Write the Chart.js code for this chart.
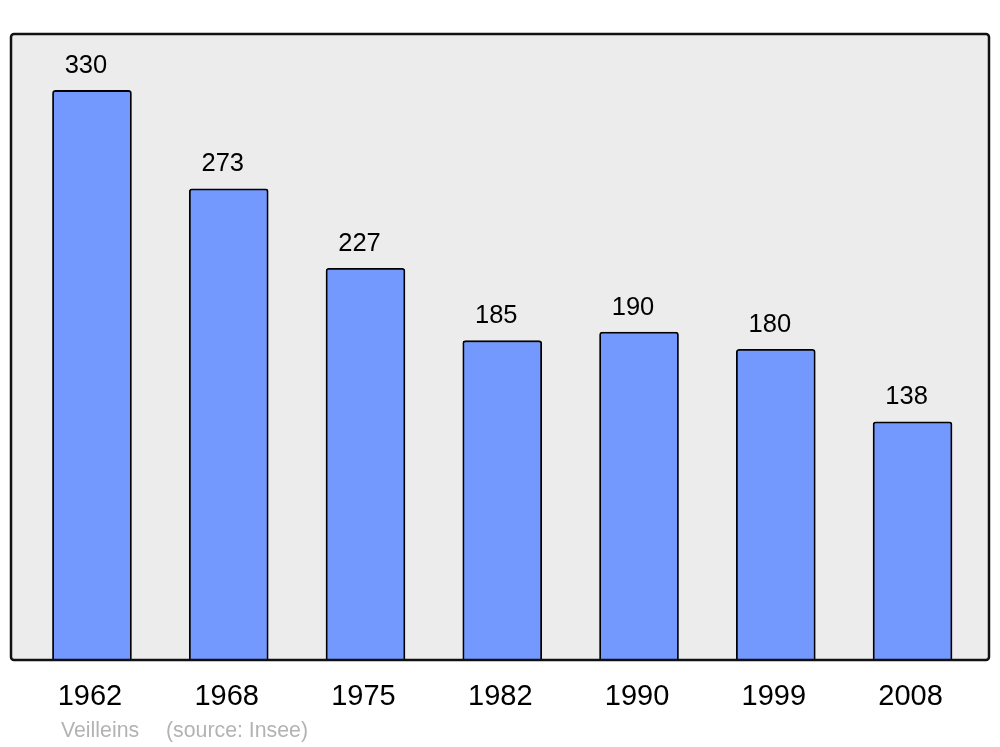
<!DOCTYPE html>
<html>
<head>
<meta charset="utf-8">
<script src="https://cdn.jsdelivr.net/npm/chart.js@4/dist/chart.umd.min.js"></script>
<style>
    html, body { margin: 0; padding: 0; background: #fff; }
    #wrap { width: 1000px; height: 747px; }
</style>
</head>
<body>
<div id="wrap"><canvas id="chart"></canvas></div>
<script>
const years = ["1962", "1968", "1975", "1982", "1990", "1999", "2008"];
const population = [330, 273, 227, 185, 190, 180, 138];
const commune = "Veilleins";
const source = "(source: Insee)";

const font = "'Liberation Sans', Arial, sans-serif";

// fond gris + cadre
const framePlugin = {
    id: 'frame',
    beforeDatasetsDraw(chart) {
        const a = chart.chartArea, ctx = chart.ctx;
        ctx.save();
        ctx.beginPath();
        ctx.roundRect(a.left, a.top, a.right - a.left, a.bottom - a.top, 3);
        ctx.fillStyle = '#ececec';
        ctx.fill();
        ctx.restore();
    },
    afterDatasetsDraw(chart) {
        const a = chart.chartArea, ctx = chart.ctx;
        const x = chart.scales.x, y = chart.scales.y;
        ctx.save();
        ctx.beginPath();
        ctx.roundRect(a.left, a.top, a.right - a.left, a.bottom - a.top, 3);
        ctx.lineWidth = 2.5;
        ctx.strokeStyle = '#111';
        ctx.stroke();

        // valeurs au-dessus des barres
        ctx.fillStyle = '#000';
        ctx.textAlign = 'center';
        ctx.textBaseline = 'middle';
        ctx.font = "25.5px " + font;
        population.forEach((v, i) => {
            ctx.fillText(String(v), x.getPixelForValue(i) - 6, y.getPixelForValue(v) - 24.5);
        });

        // années
        ctx.font = "29px " + font;
        years.forEach((lab, i) => {
            ctx.fillText(lab, x.getPixelForValue(i) - 2, a.bottom + 37);
        });

        // source
        ctx.textAlign = 'left';
        ctx.fillStyle = '#b3b3b3';
        ctx.font = "21.3px " + font;
        ctx.fillText(commune, 61, a.bottom + 71);
        ctx.fillText(source, 166, a.bottom + 71);
        ctx.restore();
    }
};

new Chart(document.getElementById('chart'), {
    type: 'bar',
    data: {
        datasets: [{
            data: population.map((v, i) => ({ x: i, y: v })),
            backgroundColor: '#7399ff',
            borderColor: '#000',
            borderWidth: 1.8,
            borderRadius: 3,
            borderSkipped: 'bottom',
            barThickness: 79
        }]
    },
    options: {
        responsive: true,
        maintainAspectRatio: false,
        animation: false,
        layout: { padding: { left: 11, right: 11, top: 34, bottom: 87 } },
        plugins: { legend: { display: false }, tooltip: { enabled: false } },
        scales: {
            x: { type: 'linear', offset: false, min: -0.592, max: 6.559, display: false },
            y: { min: 0, max: 362.7, display: false }
        }
    },
    plugins: [framePlugin]
});
</script>
</body>
</html>
